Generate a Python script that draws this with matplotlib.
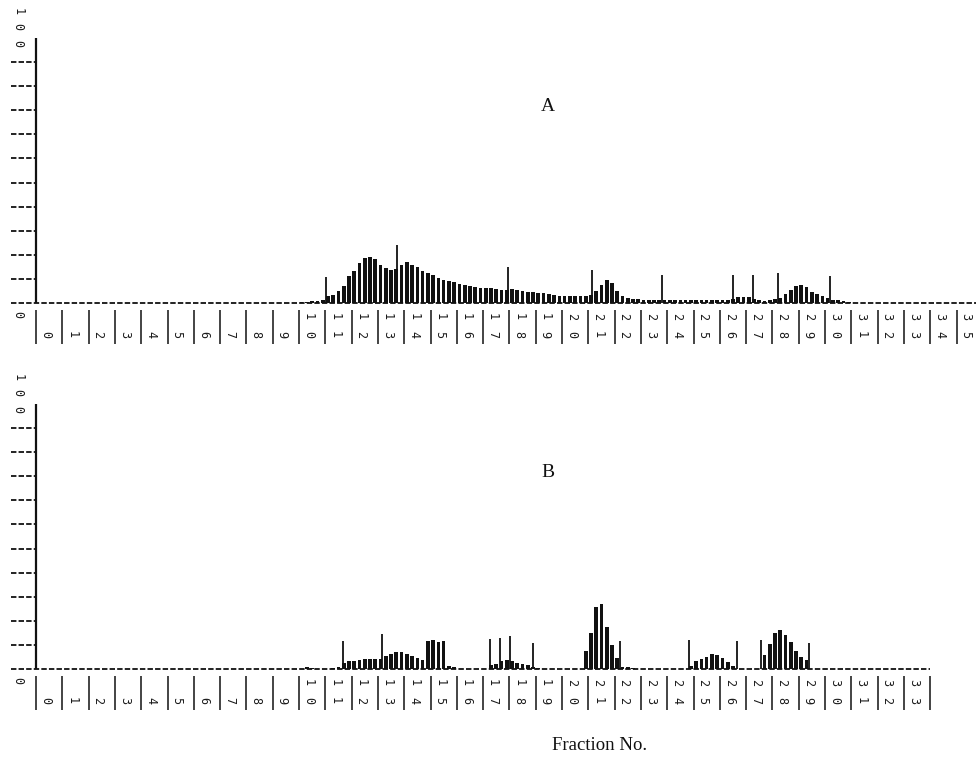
import numpy as np
import matplotlib
matplotlib.use("Agg")
import matplotlib.pyplot as plt

# ---------------- data ----------------
# bar values (percent of full scale), 5 readings per fraction, starting at fraction 10
start_fraction = 10.0
step = 0.2
profile_A = [
    0.4, 0.4, 0.8, 0.8, 1.1,      # 10
    2.6, 3.0, 4.5, 6.4, 10.2,     # 11
    12.1, 15.1, 17.0, 17.4, 16.6, # 12
    14.3, 13.2, 12.5, 12.8, 14.3, # 13
    15.5, 14.3, 13.6, 12.1, 11.3, # 14
    10.6, 9.4, 8.7, 8.3, 7.9,     # 15
    7.2, 6.8, 6.4, 6.0, 5.7,      # 16
    5.7, 5.7, 5.3, 4.9, 4.9,      # 17
    5.3, 4.9, 4.5, 4.2, 4.2,      # 18
    3.8, 3.8, 3.4, 3.0, 2.6,      # 19
    2.6, 2.6, 2.6, 2.6, 2.6,      # 20
    3.0, 4.5, 6.8, 8.7, 7.5,      # 21
    4.5, 2.6, 1.9, 1.5, 1.5,      # 22
    1.1, 1.1, 1.1, 1.1, 1.1,      # 23
    1.1, 1.1, 1.1, 1.1, 1.1,      # 24
    1.1, 1.1, 1.1, 1.1, 1.1,      # 25
    1.1, 1.1, 1.5, 2.3, 2.3,      # 26
    2.3, 1.5, 1.1, 0.8, 1.1,      # 27
    1.5, 1.9, 3.4, 4.9, 6.4,      # 28
    6.8, 6.0, 4.2, 3.4, 2.6,      # 29
    1.9, 1.1, 1.1, 0.8, 0.4,      # 30
]
profile_B = [
    0.0, 0.8, 0.4, 0.0, 0.0,      # 10
    0.0, 0.4, 0.8, 2.3, 3.0,      # 11
    3.0, 3.4, 3.8, 3.8, 3.8,      # 12
    3.8, 4.9, 5.7, 6.4, 6.4,      # 13
    5.7, 4.9, 4.2, 3.4, 10.6,     # 14
    10.9, 10.2, 10.6, 1.1, 0.8,   # 15
    0.0, 0.0, 0.0, 0.0, 0.0,      # 16
    0.0, 1.5, 1.9, 3.0, 3.4,      # 17
    3.0, 2.3, 1.9, 1.5, 0.8,      # 18
    0.4, 0.0, 0.0, 0.0, 0.0,      # 19
    0.0, 0.0, 0.0, 0.0, 6.8,      # 20
    13.6, 23.4, 24.5, 15.8, 9.1,  # 21
    4.2, 0.8, 0.8, 0.4, 0.0,      # 22
    0.0, 0.0, 0.0, 0.0, 0.0,      # 23
    0.0, 0.0, 0.0, 0.0, 1.1,      # 24
    3.0, 3.8, 4.5, 5.7, 5.3,      # 25
    4.2, 2.6, 1.1, 0.0, 0.0,      # 26
    0.0, 0.0, 0.0, 5.3, 9.4,      # 27
    13.6, 14.7, 12.8, 10.2, 6.8,  # 28
    4.5, 3.4, 0.0, 0.0, 0.0,      # 29
    0.0, 0.0, 0.0, 0.0, 0.0,      # 30
]
# event marker lines (fraction position, height in percent)
markers_A_pos = [11.03, 13.73, 17.95, 21.14, 23.8, 26.5, 27.25, 28.2, 30.2]
markers_A_h = [9.8, 21.9, 13.6, 12.5, 10.6, 10.6, 10.6, 11.3, 10.2]
markers_B_pos = [11.67, 13.16, 17.26, 17.64, 18.02, 18.9, 22.2, 24.83, 26.65, 27.57, 29.39]
markers_B_h = [10.6, 13.2, 11.3, 11.7, 12.5, 9.8, 10.6, 10.9, 10.6, 10.9, 9.8]

fractions_A = list(range(0, 36))
fractions_B = list(range(0, 34))
y_top_label = "100"
y_zero_label = "0"
n_yticks = 10
panel_labels = ["A", "B"]
xlabel = "Fraction No."

# ---------------- layout ----------------
W, H = 976, 759
fig = plt.figure(figsize=(W / 100, H / 100), dpi=100)
fig.patch.set_facecolor("white")

PX_PER_F = 26.3
X0 = 36.0
PX_PER_V = 2.65
xlim = (-X0 / PX_PER_F, (W - X0) / PX_PER_F)
dash = (0, (3, 1.2))
ink = "#111111"
digit_font = dict(family="DejaVu Sans Mono", fontsize=8.5, color="#1a1a1a")


def panel(y_px0, y_px1, base_px, values, mpos, mh, fracs, base_end, label):
    ax = fig.add_axes([0, 1 - y_px1 / H, 1, (y_px1 - y_px0) / H])
    ax.set_xlim(*xlim)
    ax.set_ylim((base_px - y_px1) / PX_PER_V, (base_px - y_px0) / PX_PER_V)
    ax.axis("off")
    vals = np.array(values)
    pos = start_fraction + step * np.arange(len(vals)) + step / 2
    ax.bar(pos, vals, width=0.14, color=ink, linewidth=0, zorder=3)
    ax.vlines(mpos, 0, mh, color=ink, lw=1.3, zorder=4)
    # baseline
    ax.hlines(0, -0.95, base_end, color=ink, lw=1.3, linestyles=[dash], zorder=2)
    # y axis
    ax.vlines(0, 0, 100, color=ink, lw=1.6)
    yt = np.arange(1, n_yticks + 1) * 100 / (n_yticks + 1)
    ax.hlines(yt, -0.95, 0, color=ink, lw=1.3, linestyles=[dash])
    yl_x = (18 - X0) / PX_PER_F
    for ch, ypx in zip(y_top_label, [12, 27, 44]):
        ax.text(yl_x, (303 - ypx) / PX_PER_V, ch, rotation=-90,
                ha="center", va="center", **digit_font)
    ax.text(yl_x, -4.4, y_zero_label, rotation=-90, ha="center",
            va="center", **digit_font)
    # x ticks and labels
    ax.vlines(list(fracs) + [fracs[-1] + 1], -2.6, -15.3, color=ink, lw=1.1)
    for n in fracs:
        s = str(n)
        xc = n + 0.36
        ax.text(xc, -11.9, s[-1], rotation=-90, ha="center", va="center",
                **digit_font)
        if len(s) == 2:
            ax.text(xc, -5.2, s[0], rotation=-90, ha="center", va="center",
                    **digit_font)
    ax.text((548 - X0) / PX_PER_F, 74.3, label, ha="center", va="center",
            family="Liberation Serif", fontsize=14, color=ink)
    return ax


panel(0, 366, 303, profile_A, markers_A_pos, markers_A_h, fractions_A,
      xlim[1], panel_labels[0])
panel(366, 759, 669, profile_B, markers_B_pos, markers_B_h, fractions_B,
      fractions_B[-1] + 1, panel_labels[1])

fig.text(600 / W, 1 - 745 / H, xlabel, ha="center", va="center",
         family="Liberation Serif", fontsize=13.5, color=ink)

fig.savefig("out.png", dpi=100, facecolor="white")
